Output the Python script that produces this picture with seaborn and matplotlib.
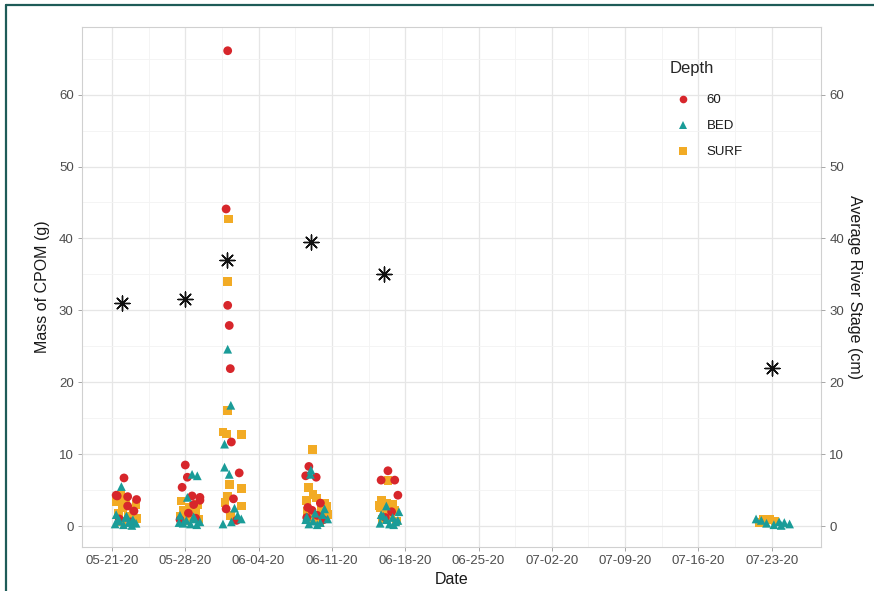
import matplotlib
matplotlib.use("Agg")
import matplotlib.pyplot as plt
import matplotlib.dates as mdates
from matplotlib.lines import Line2D
import numpy as np
import pandas as pd
import seaborn as sns

# Sampling dates and average river stage (cm)
sample_dates = ["2020-05-22", "2020-05-28", "2020-06-01", "2020-06-09", "2020-06-16", "2020-07-23"]
river_stage = [31.0, 31.6, 37.0, 39.5, 35.1, 22.0]

# CPOM mass (g) per depth: sample index, day offset within the sampling event, mass
d60_sample = [0]*9 + [1]*10 + [2]*10 + [3]*9 + [4]*6
d60_offset = [0.15, -0.5, 0.5, 1.35, 0.5, 1.1, -0.3, 0.8, -0.6,
              0.0, 0.2, -0.3, 0.65, 1.4, 1.4, 0.8, 0.3, 1.0, -0.5,
              0.05, -0.1, 0.05, 0.2, 0.3, 0.4, 1.15, 0.6, -0.1, 0.9,
              -0.2, -0.5, 0.5, 0.9, -0.3, 0.1, 0.6, 1.2, -0.4,
              0.35, -0.3, 1.0, 1.3, 0.7, 0.1]
d60_mass = [6.7, 4.2, 4.1, 3.7, 2.8, 2.1, 1.0, 0.6, 4.3,
            8.5, 6.8, 5.4, 4.2, 4.0, 3.6, 3.0, 1.8, 1.1, 0.9,
            66.1, 44.1, 30.7, 27.9, 21.9, 11.7, 7.4, 3.8, 2.4, 0.8,
            8.3, 7.0, 6.8, 3.2, 2.6, 2.2, 1.5, 0.9, 1.2,
            7.7, 6.4, 6.4, 4.3, 2.0, 1.2]

bed_sample = [0]*12 + [1]*12 + [2]*10 + [3]*12 + [4]*11 + [5]*8
bed_offset = [-0.1, -0.6, 0.3, 1.0, -0.3, 0.6, 1.3, -0.7, 0.1, 0.9, 0.4, -0.4,
              0.65, 1.15, 0.2, -0.5, 0.9, 0.1, 1.4, -0.2, 0.5, 1.1, -0.6, 0.8,
              0.05, 0.35, -0.25, -0.25, 0.2, 0.7, 1.0, -0.4, 0.4, 1.35,
              0.0, -0.05, 1.3, 0.4, -0.4, 1.6, 0.2, 0.9, -0.2, 0.6, 1.1, -0.5,
              0.2, 1.4, -0.3, 0.8, 0.2, 1.1, -0.4, 0.5, 0.9, 1.3, -0.1,
              -1.5, -1.0, 0.7, 1.2, -0.5, 1.7, 0.2, 0.9]
bed_mass = [5.5, 1.6, 1.2, 0.9, 0.7, 0.5, 0.4, 0.3, 0.2, 0.1, 1.4, 1.0,
            7.2, 7.0, 4.0, 1.5, 1.0, 0.8, 0.6, 0.4, 0.3, 0.2, 0.5, 1.3,
            24.6, 16.8, 11.4, 8.2, 7.2, 2.5, 1.5, 0.3, 0.6, 1.0,
            7.8, 7.2, 2.4, 1.8, 1.3, 1.0, 0.7, 0.5, 0.3, 0.2, 1.6, 0.9,
            2.8, 2.0, 1.6, 1.2, 0.9, 0.6, 0.4, 0.3, 0.2, 0.8, 1.4,
            1.0, 0.8, 0.6, 0.5, 0.4, 0.3, 0.2, 0.1]

surf_sample = [0]*11 + [1]*11 + [2]*12 + [3]*12 + [4]*12 + [5]*4
surf_offset = [-0.2, -0.6, 1.3, 0.0, 1.0, -0.4, 0.6, 1.4, -0.1, 0.3, 0.9,
               -0.4, 1.2, 0.4, -0.2, 1.0, 0.6, -0.5, 1.3, 0.2, 0.8, 0.0,
               0.1, 0.0, 0.05, -0.4, -0.1, 1.35, 1.35, 0.2, 0.0, -0.2, 1.35, 0.3,
               0.15, -0.2, 0.2, -0.4, 1.3, 1.5, 1.0, 1.6, 0.0, 0.8, -0.3, 0.5,
               0.35, -0.3, 0.2, 0.8, -0.4, 1.0, 0.1, 0.6, -0.2, 1.2, 0.4, -0.5,
               -0.8, -0.2, 0.3, -1.2]
surf_mass = [4.3, 3.4, 3.0, 2.6, 2.2, 1.8, 1.4, 1.1, 0.6, 3.8, 0.9,
             3.5, 3.0, 2.6, 2.2, 2.0, 1.6, 1.3, 1.0, 0.7, 2.8, 1.9,
             42.7, 34.0, 16.1, 13.1, 12.8, 12.7, 5.2, 5.8, 4.2, 3.3, 2.8, 1.5,
             10.7, 5.4, 4.4, 3.6, 3.2, 2.8, 2.2, 1.6, 1.0, 0.5, 2.0, 3.9,
             6.4, 3.6, 3.2, 3.0, 2.6, 2.2, 1.8, 1.4, 1.0, 0.7, 2.4, 2.9,
             1.0, 0.9, 0.7, 0.5]

depth_levels = ["60", "BED", "SURF"]
depth_colors = ["#D7262B", "#1A9C98", "#F2AB25"]
depth_markers = ["o", "^", "s"]

x_ticks = pd.date_range("2020-05-21", "2020-07-23", freq="7D")

sd = pd.to_datetime(sample_dates)

def build(depth, samples, offsets, masses):
    dates = sd[samples] + pd.to_timedelta(offsets, unit="D")
    return pd.DataFrame({"Date": dates, "Mass": masses, "Depth": depth})

# Surface samples first so the bed and 60 cm samples sit on top
cpom = pd.concat([
    build("SURF", surf_sample, surf_offset, surf_mass),
    build("60", d60_sample, d60_offset, d60_mass),
    build("BED", bed_sample, bed_offset, bed_mass),
], ignore_index=True)
stage = pd.DataFrame({"Date": sd, "Stage": river_stage})

sns.set_theme(style="white")
plt.rcParams["font.family"] = ["Liberation Sans", "DejaVu Sans"]

fig = plt.figure(figsize=(8.74, 5.91), dpi=100)
ax = fig.add_axes([82/874, 1 - 547/591, (821 - 82)/874, (547 - 27)/591])

grid_major = "#E6E6E6"
grid_minor = "#F3F3F3"
ax.set_axisbelow(True)

sns.scatterplot(data=cpom, x="Date", y="Mass", hue="Depth", style="Depth",
                hue_order=depth_levels, style_order=depth_levels,
                palette=dict(zip(depth_levels, depth_colors)),
                markers=dict(zip(depth_levels, depth_markers)),
                s=40, linewidth=0, ax=ax, zorder=3)

xmin = pd.Timestamp("2020-05-21") - pd.Timedelta(days=2.86)
xmax = pd.Timestamp("2020-05-21") + pd.Timedelta(days=67.7)
ylim = (-2.9, 69.4)
ax.set_xlim(xmin, xmax)
ax.set_ylim(*ylim)

ax.set_xticks(x_ticks)
ax.xaxis.set_major_formatter(mdates.DateFormatter("%m-%d-%y"))
ax.set_xticks(x_ticks[:-1] + pd.Timedelta(days=3.5), minor=True)
ax.set_yticks(np.arange(0, 61, 10))
ax.set_yticks(np.arange(5, 70, 10), minor=True)
ax.grid(which="major", color=grid_major, linewidth=0.9)
ax.grid(which="minor", color=grid_minor, linewidth=0.6)

ax.set_xlabel("Date", fontsize=11.5, color="#1A1A1A", labelpad=3)
ax.set_ylabel("Mass of CPOM (g)", fontsize=11.5, color="#1A1A1A", labelpad=6)
ax.tick_params(axis="both", which="major", labelsize=9.5, labelcolor="#4D4D4D",
               length=3, width=0.6, color="#999999", pad=3, left=True, bottom=True)
ax.tick_params(which="minor", length=0)
for sp in ax.spines.values():
    sp.set_color("#D0D0D0")
    sp.set_linewidth(0.8)

# River stage on the secondary axis
ax2 = ax.twinx()
sns.scatterplot(data=stage, x="Date", y="Stage", marker=(8, 2, 0), color="#111111",
                s=115, linewidth=1.0, ax=ax2, zorder=4)
ax2.set_ylim(*ylim)
ax2.set_xlim(xmin, xmax)
ax2.set_yticks(np.arange(0, 61, 10))
ax2.set_ylabel("Average River Stage (cm)", fontsize=11.5, color="#1A1A1A",
               rotation=270, labelpad=13)
ax2.tick_params(axis="y", labelsize=9.5, labelcolor="#4D4D4D", length=3, width=0.6,
                color="#999999", pad=3, right=True)
ax2.grid(False)
for sp in ax2.spines.values():
    sp.set_visible(False)

handles = [Line2D([], [], linestyle="none", marker=m, markersize=5.5,
                  markerfacecolor=c, markeredgewidth=0)
           for m, c in zip(depth_markers, depth_colors)]
ax.legend(handles, depth_levels, title="Depth", frameon=False,
          loc="upper left", bbox_to_anchor=(0.788, 0.945),
          fontsize=9.5, title_fontsize=12, handletextpad=0.8,
          labelspacing=1.05, borderaxespad=0)
leg = ax.get_legend()
leg._legend_box.align = "left"
leg._legend_box.sep = 13
for t in leg.get_texts():
    t.set_color("#1A1A1A")

# Outer frame
frame_color = "#1E5C58"
fig.add_artist(Line2D([6/874, 6/874], [0, 1 - 5/591], transform=fig.transFigure,
                      color=frame_color, linewidth=1.6))
fig.add_artist(Line2D([6/874, 1], [1 - 5/591, 1 - 5/591], transform=fig.transFigure,
                      color=frame_color, linewidth=1.6))

fig.savefig("out.png", dpi=100)
